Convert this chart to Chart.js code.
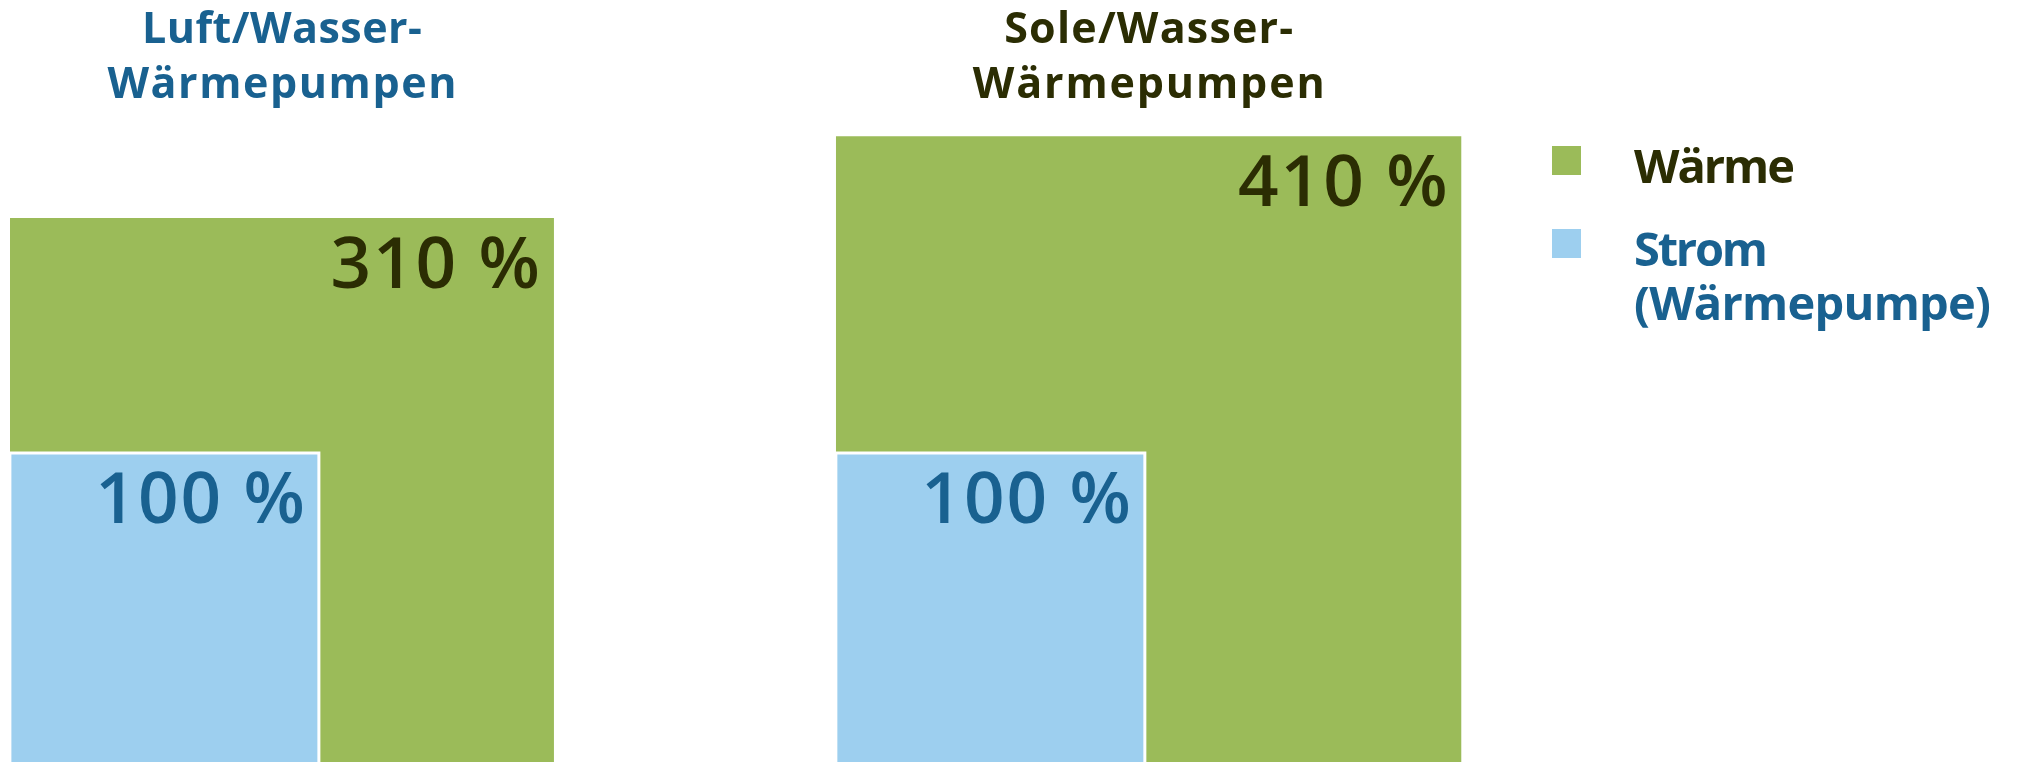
<!DOCTYPE html>
<html>
<head>
<meta charset="utf-8">
<script src="https://cdn.jsdelivr.net/npm/chart.js@4.4.0/dist/chart.umd.min.js"></script>
<style>
  html, body { margin: 0; padding: 0; background: #ffffff; overflow: hidden; }
  #wrap { width: 2017px; height: 762px; position: relative; }
  canvas { display: block; }
</style>
</head>
<body>
<div id="wrap"><canvas id="c" width="2017" height="762"></canvas></div>
<script>
// ---------------- DATA ----------------
const categories = [
  ['Luft/Wasser-', 'Wärmepumpen'],
  ['Sole/Wasser-', 'Wärmepumpen']
];
const seriesNames = ['Wärme', 'Strom (Wärmepumpe)'];
const legendLines = [['Wärme'], ['Strom', '(Wärmepumpe)']];
const waermeValues = [310, 410];   // Wärme in %
const stromValues  = [100, 100];   // Strom (Wärmepumpe) in %
const valueSuffix = ' %';

// ---------------- STYLE / LAYOUT ----------------
const W = 2017, H = 762;
const GREEN = '#9bbb59';
const BLUE = '#9dcfef';
const BLUE_TEXT = '#196190';
const OLIVE_TEXT = '#2b2d03';
const FONT = "'Open Sans', 'Noto Sans', 'DejaVu Sans', sans-serif";
const Y_MAX = 24.66;                 // visible height in sqrt(%) units
const X_MAX = Y_MAX * W / H;         // equal units on both axes -> true squares
const groupOrigins = [0.32, 27.05];  // left edge of each group (axis units)
const titleColors = [BLUE_TEXT, OLIVE_TEXT];
const titleTargets = [[280, 349], [289, 352]];   // [category][line] text widths
const legendTargets = [[161], [134, 357]];
const LABEL_SPACING = 2;             // extra px between label characters

// side of a square whose area encodes the value
const side = v => Math.sqrt(v);

function squarePoints(origin, value) {
  const s = side(value);
  return [
    { x: origin, y: 0 },
    { x: origin, y: s },
    { x: origin + s, y: s },
    { x: origin + s, y: 0 }
  ];
}

const datasets = [];
waermeValues.forEach((v, i) => {
  datasets.push({
    type: 'line',
    label: seriesNames[0],
    data: squarePoints(groupOrigins[i], v),
    backgroundColor: GREEN,
    borderColor: GREEN,
    borderWidth: 0,
    fill: 'origin',
    pointRadius: 0,
    tension: 0,
    order: 2,
    meta: { value: v, cat: i, color: OLIVE_TEXT, series: 0 }
  });
});
stromValues.forEach((v, i) => {
  datasets.push({
    type: 'line',
    label: seriesNames[1],
    data: squarePoints(groupOrigins[i], v),
    backgroundColor: BLUE,
    borderColor: '#ffffff',
    borderWidth: 3,
    fill: 'origin',
    pointRadius: 0,
    tension: 0,
    order: 1,
    meta: { value: v, cat: i, color: BLUE_TEXT, series: 1 }
  });
});

// draws text char by char; either fitted to a target width or with fixed extra spacing
function fitText(ctx, text, x, y, align, target, extra) {
  const chars = [...text];
  const ws = chars.map(c => ctx.measureText(c).width);
  const sum = ws.reduce((a, b) => a + b, 0);
  let sp = 0;
  if (target && chars.length > 1) sp = (target - sum) / (chars.length - 1);
  else if (extra) sp = extra;
  const tw = sum + sp * (chars.length - 1);
  let cx = align === 'center' ? x - tw / 2 : align === 'right' ? x - tw : x;
  ctx.textAlign = 'left';
  chars.forEach((c, k) => { ctx.fillText(c, cx, y); cx += ws[k] + sp; });
}

const textPlugin = {
  id: 'textPlugin',
  afterDraw(chart) {
    const ctx = chart.ctx;
    const xs = chart.scales.x, ys = chart.scales.y;
    ctx.save();
    ctx.textBaseline = 'alphabetic';

    // Titles centred above each large square
    categories.forEach((lines, i) => {
      const s = side(waermeValues[i]);
      const cx = xs.getPixelForValue(groupOrigins[i] + s / 2);
      ctx.fillStyle = titleColors[i];
      ctx.font = `700 43px ${FONT}`;
      fitText(ctx, lines[0], cx, 43, 'center', titleTargets[i][0]);
      fitText(ctx, lines[1], cx, 98, 'center', titleTargets[i][1]);
    });

    // Value labels in top-right corner of each square
    chart.data.datasets.forEach(ds => {
      const m = ds.meta;
      const s = side(m.value);
      const right = xs.getPixelForValue(groupOrigins[m.cat] + s) - 14;
      const top = ys.getPixelForValue(s);
      ctx.fillStyle = m.color;
      ctx.font = `600 71px ${FONT}`;
      fitText(ctx, m.value + valueSuffix, right, top + 70, 'right', 0, LABEL_SPACING);
    });

    // Legend
    const legendColors = [GREEN, BLUE];
    const legendTextColors = [OLIVE_TEXT, BLUE_TEXT];
    const boxY = [146, 229];
    const textY = [183, 266];
    legendLines.forEach((lines, j) => {
      ctx.fillStyle = legendColors[j];
      ctx.fillRect(1552, boxY[j], 29, 29);
      ctx.fillStyle = legendTextColors[j];
      ctx.font = `700 47px ${FONT}`;
      lines.forEach((ln, k) => {
        fitText(ctx, ln, 1634, textY[j] + k * 54, 'left', legendTargets[j][k]);
      });
    });
    ctx.restore();
  }
};

new Chart(document.getElementById('c'), {
  type: 'scatter',
  data: { datasets },
  options: {
    responsive: false,
    animation: false,
    events: [],
    layout: { padding: 0 },
    scales: {
      x: { type: 'linear', min: 0, max: X_MAX, display: false },
      y: { type: 'linear', min: 0, max: Y_MAX, display: false }
    },
    plugins: {
      legend: { display: false },
      tooltip: { enabled: false },
      title: { display: false }
    }
  },
  plugins: [textPlugin]
});
</script>
</body>
</html>
